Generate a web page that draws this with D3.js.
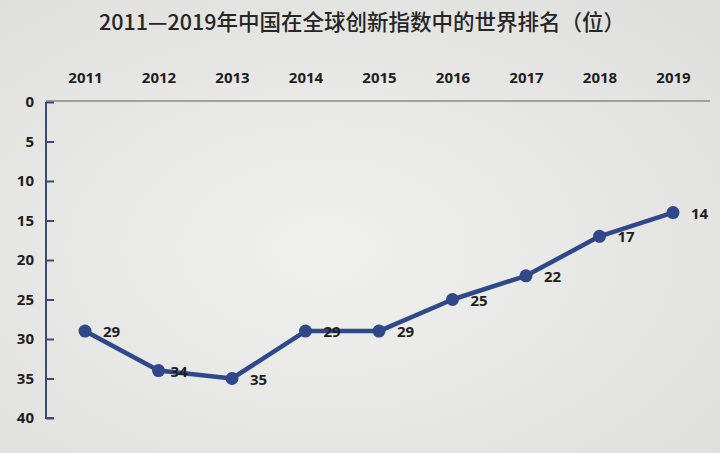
<!DOCTYPE html>
<html><head><meta charset="utf-8">
<script src="https://cdn.jsdelivr.net/npm/d3@7"></script>
<style>
html,body{margin:0;padding:0;background:#e7e7e5;}
svg{display:block;}
</style></head>
<body>
<svg id="chart" width="720" height="453"></svg>
<script>
const titleText = "2011—2019年中国在全球创新指数中的世界排名（位）";
const years = ["2011","2012","2013","2014","2015","2016","2017","2018","2019"];
const ranks = [29, 34, 35, 29, 29, 25, 22, 17, 14];
const yTicks = [0, 5, 10, 15, 20, 25, 30, 35, 40];

const svg = d3.select("#chart");
const W = 720, H = 453;

const defs = svg.append("defs");
const grad = defs.append("radialGradient").attr("id","bg").attr("cx","45%").attr("cy","55%").attr("r","75%");
grad.append("stop").attr("offset","0%").attr("stop-color","#f0f0ee");
grad.append("stop").attr("offset","100%").attr("stop-color","#dededc");
svg.append("rect").attr("width",W).attr("height",H).attr("fill","url(#bg)");

svg.append("text")
  .attr("x", 362).attr("y", 30)
  .attr("text-anchor","middle")
  .attr("font-family","'Noto Sans CJK SC', sans-serif")
  .attr("font-size", 21.5)
  .attr("font-weight", 500)
  .attr("fill","#262626")
  .text(titleText);

const x = d3.scalePoint().domain(years).range([85, 673]);
const y = d3.scaleLinear().domain([0, 40]).range([102, 418]);

// top axis (gray line + year labels)
const xAxis = d3.axisTop(x).tickSize(0).tickPadding(18);
const gx = svg.append("g").attr("transform","translate(0,101)").call(xAxis);
gx.select(".domain").remove();
gx.append("line").attr("x1",46).attr("x2",710).attr("y1",0).attr("y2",0)
  .attr("stroke","#8a8a8a").attr("stroke-width",1.3);
gx.selectAll(".tick text")
  .attr("font-family","'Open Sans', 'DejaVu Sans', sans-serif")
  .attr("font-weight","bold").attr("font-size",15).attr("fill","#1e1e1e");

// left axis with inward ticks
const yAxis = d3.axisRight(y).tickValues(yTicks).tickSize(8).tickFormat(d3.format("d"));
const gy = svg.append("g").attr("transform","translate(46,0)").call(yAxis);
gy.select(".domain").attr("stroke","#3d4a78").attr("stroke-width",2).attr("d","M0,102V418H8");
gy.selectAll(".tick line").attr("stroke","#3d4a78").attr("stroke-width",2);
gy.selectAll(".tick text")
  .attr("x",-12).attr("text-anchor","end")
  .attr("font-family","'Open Sans', 'DejaVu Sans', sans-serif")
  .attr("font-weight","bold").attr("font-size",15).attr("fill","#1e1e1e");

const data = years.map((yr,i)=>({yr, v:ranks[i]}));
const lineColor = "#2f4889";

svg.append("path").datum(data)
  .attr("fill","none").attr("stroke",lineColor).attr("stroke-width",4.5)
  .attr("stroke-linejoin","round")
  .attr("d", d3.line().x(d=>x(d.yr)).y(d=>y(d.v)));

svg.selectAll("circle.pt").data(data).join("circle")
  .attr("class","pt")
  .attr("cx",d=>x(d.yr)).attr("cy",d=>y(d.v)).attr("r",6.5)
  .attr("fill",lineColor);

svg.selectAll("text.lbl").data(data).join("text")
  .attr("class","lbl")
  .attr("x",(d,i)=>x(d.yr) + (i===1 ? 12 : 18))
  .attr("y",d=>y(d.v) + 6)
  .attr("font-family","'Open Sans', 'DejaVu Sans', sans-serif")
  .attr("font-weight","bold").attr("font-size",15).attr("fill","#1e1e1e")
  .text(d=>d.v);
</script>
</body></html>
